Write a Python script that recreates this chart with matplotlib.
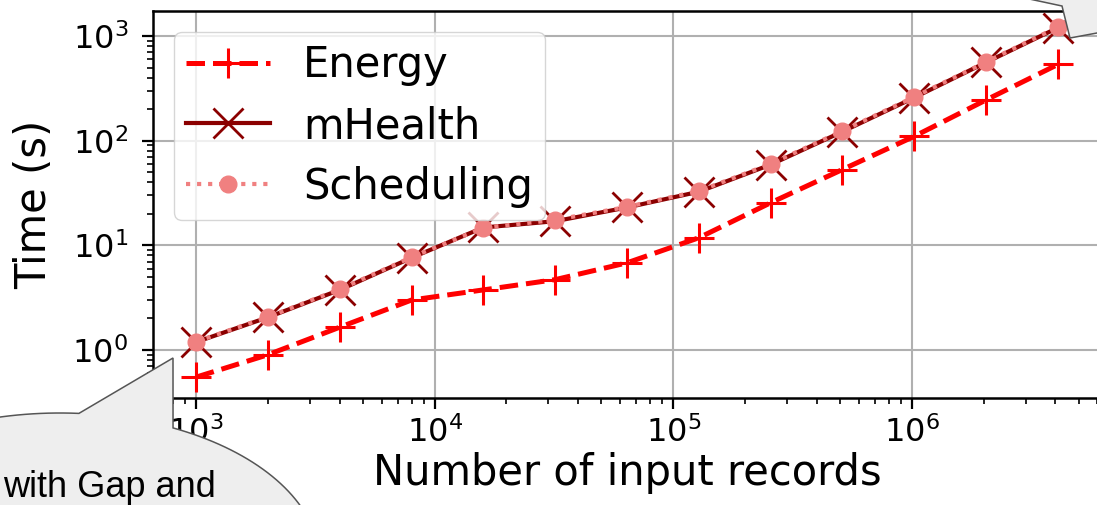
import numpy as np
import matplotlib
matplotlib.use("Agg")
import matplotlib.pyplot as plt
from matplotlib.path import Path
from matplotlib.patches import PathPatch

# ---- data ----
records = [1000, 2000, 4000, 8000, 16000, 32000, 64000, 128000,
           256000, 512000, 1024000, 2048000, 4096000]
energy = [0.55, 0.9, 1.65, 3.0, 3.75, 4.7, 6.8, 11.8, 25.5, 53, 110, 245, 535]
mhealth = [1.19, 2.05, 3.75, 7.6, 14.8, 17.0, 23.0, 32.5, 59, 122, 258, 560, 1200]
scheduling = [1.2, 2.07, 3.8, 7.7, 14.7, 17.5, 23.3, 33.0, 60, 124, 262, 565, 1220]
series_names = ["Energy", "mHealth", "Scheduling"]
bubble_text = "with Gap and"

W, H = 1097, 505
fig = plt.figure(figsize=(W / 100, H / 100), dpi=100)
ax = fig.add_axes([153 / W, 1 - 398 / H, 948 / W, 387 / H])

ax.plot(records, energy, color="red", linestyle="--", linewidth=3.6,
        marker="+", markersize=21, markeredgewidth=2.2, label=series_names[0], zorder=3)
ax.plot(records, mhealth, color="darkred", linestyle="-", linewidth=3.0,
        marker="x", markersize=21, markeredgewidth=2.0, label=series_names[1], zorder=4)
ax.plot(records, scheduling, color="lightcoral", linestyle=":", linewidth=3.0,
        marker="o", markersize=12, label=series_names[2], zorder=5)

ax.set_xscale("log")
ax.set_yscale("log")
ax.set_ylim(10 ** -0.459, 10 ** 3.239)
ax.grid(True, which="major", color="#b0b0b0", linewidth=1.5)
ax.set_axisbelow(True)

for s in ax.spines.values():
    s.set_linewidth(1.8)
ax.tick_params(which="major", length=8, width=1.6, labelsize=23)
ax.tick_params(axis="y", which="major", pad=10)
ax.tick_params(axis="x", which="major", pad=5)
ax.tick_params(which="minor", length=4.5, width=1.2)

ax.set_xlabel("Number of input records", fontsize=30, labelpad=2)
ax.set_ylabel("Time (s)", fontsize=30, labelpad=12)

ax.legend(loc="upper left", fontsize=30, handlelength=2.0, borderpad=0.3,
          labelspacing=0.45)

# ---- callout bubbles (decorative overlay) ----
def fc(x, y):
    return (x / W, 1 - y / H)

# bottom-left bubble: ellipse with pointer
cx, cy, a, b = 60, 563, 260, 150
t0, t1 = 1.498, 1.121 + 2 * np.pi
ts = np.linspace(t0, t1, 200)
pts = [fc(cx + a * np.cos(t), cy - b * np.sin(t)) for t in ts]
pts.append(fc(173, 358))
pts.append(pts[0])
codes = [Path.MOVETO] + [Path.LINETO] * (len(pts) - 2) + [Path.CLOSEPOLY]
bubble1 = PathPatch(Path(pts, codes), facecolor="#eeeeee", edgecolor="#555555",
                    linewidth=1.1, transform=fig.transFigure, clip_on=False, zorder=10)
fig.add_artist(bubble1)
fig.text(3 / W, 1 - 497 / H, bubble_text, fontsize=26, family="Liberation Sans",
         color="black", ha="left", va="baseline", zorder=11)

# top-right bubble pointer
poly = [fc(1020, -3), fc(1062, 6), fc(1070, 38), fc(1097, 33), fc(1130, 28),
        fc(1130, -40), fc(1020, -40), fc(1020, -3)]
codes2 = [Path.MOVETO] + [Path.LINETO] * (len(poly) - 2) + [Path.CLOSEPOLY]
bubble2 = PathPatch(Path(poly, codes2), facecolor="#eeeeee", edgecolor="#555555",
                    linewidth=1.1, transform=fig.transFigure, clip_on=False, zorder=10)
fig.add_artist(bubble2)

fig.savefig("out.png", dpi=100)
